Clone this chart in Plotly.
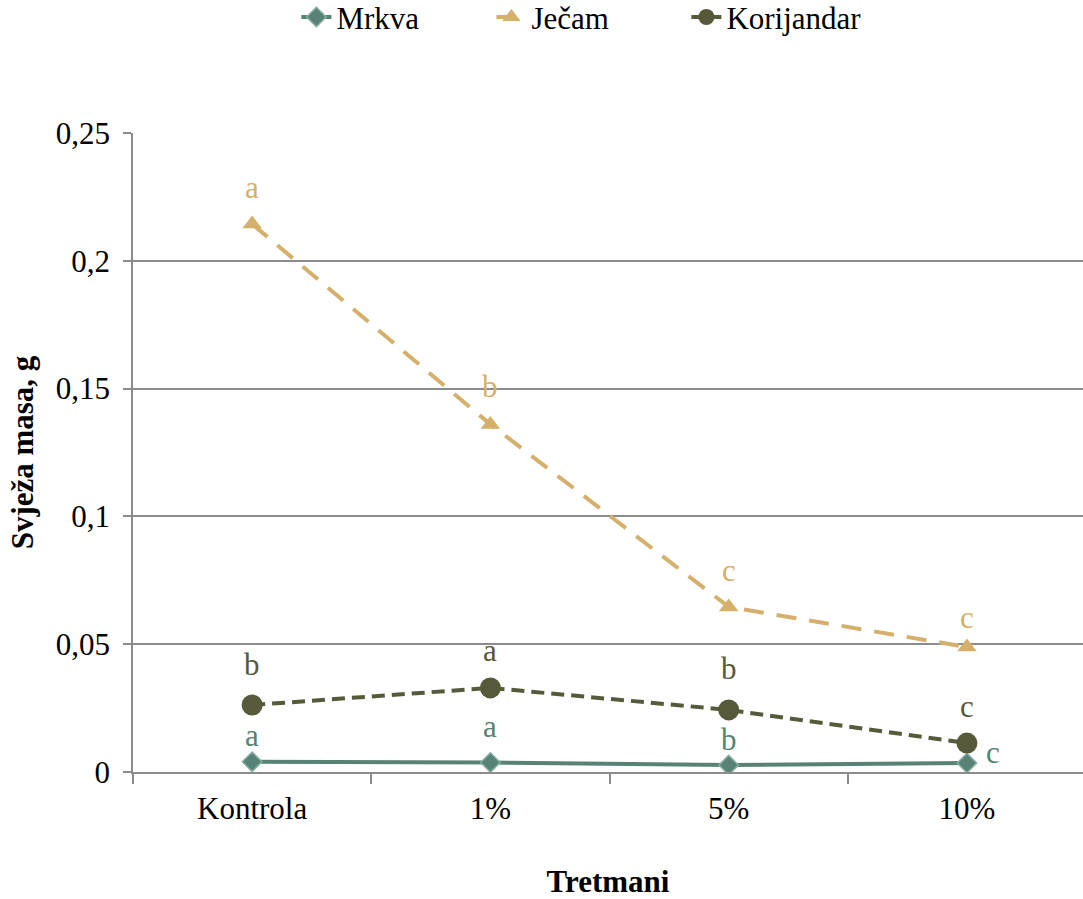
import plotly.graph_objects as go

categories = ["Kontrola", "1%", "5%", "10%"]
mrkva = [0.0040, 0.0037, 0.0027, 0.0035]
jecam = [0.2144, 0.1360, 0.0646, 0.0489]
korijandar = [0.0262, 0.0329, 0.0243, 0.0113]
mrkva_labels = ["a", "a", "b", "c"]
jecam_labels = ["a", "b", "c", "c"]
korijandar_labels = ["b", "a", "b", "c"]
y_tickvals = [0, 0.05, 0.1, 0.15, 0.2, 0.25]
y_ticktext = ["0", "0,05", "0,1", "0,15", "0,2", "0,25"]

# label placement (pixel shifts from each point), as in the original figure
mrkva_label_shift = [(0, 26), (0, 36), (0, 26), (26, 11)]
jecam_label_shift = [(0, 36), (0, 38), (0, 36), (0, 30)]
korijandar_label_shift = [(0, 41), (0, 37), (0, 41), (0, 37)]

FONT = "Liberation Serif"
FS = 31
C_M = "#578275"
C_J = "#D4B06A"
C_K = "#575A3A"

fig = go.Figure()
fig.add_trace(go.Scatter(
    x=categories, y=mrkva, name="Mrkva", mode="lines+markers",
    line=dict(color=C_M, width=4),
    marker=dict(symbol="diamond", size=15, color=C_M, line=dict(color="#86AEA2", width=1.5)),
))
fig.add_trace(go.Scatter(
    x=categories, y=jecam, name="Ječam", mode="lines+markers",
    line=dict(color=C_J, width=4, dash="20px,13px"),
    marker=dict(symbol="triangle-up", size=17, color=C_J),
))
fig.add_trace(go.Scatter(
    x=categories, y=korijandar, name="Korijandar", mode="lines+markers",
    line=dict(color=C_K, width=4, dash="13px,7px"),
    marker=dict(symbol="circle", size=21, color=C_K),
))

series = [
    (mrkva, mrkva_labels, mrkva_label_shift, C_M),
    (jecam, jecam_labels, jecam_label_shift, C_J),
    (korijandar, korijandar_labels, korijandar_label_shift, C_K),
]
for vals, labs, shifts, col in series:
    for cat, v, lab, (dx, dy) in zip(categories, vals, labs, shifts):
        fig.add_annotation(
            x=cat, y=v, text=lab, showarrow=False,
            xanchor="center", yanchor="middle", xshift=dx, yshift=dy,
            font=dict(color=col, size=FS, family=FONT),
        )

fig.update_layout(
    width=1083, height=899,
    margin=dict(l=133, r=0, t=133, b=127, autoexpand=False),
    paper_bgcolor="white", plot_bgcolor="white",
    font=dict(family=FONT, size=FS, color="black"),
    showlegend=True,
    legend=dict(orientation="h", x=0.172, xanchor="left", y=1.181, yanchor="middle",
                entrywidth=150,
                font=dict(size=FS, family=FONT, color="black"),
                traceorder="normal", bgcolor="rgba(0,0,0,0)"),
    xaxis=dict(
        type="category", range=[-0.5, 3.487],
        showline=True, linecolor="#8C8C8C", linewidth=1.5,
        ticks="outside", tickson="boundaries", ticklen=10, tickcolor="#8C8C8C", tickwidth=1.5,
        showgrid=False, zeroline=False, automargin=False, ticklabelstandoff=8,
        tickfont=dict(size=FS, family=FONT, color="black"),
        title=dict(text="<b>Tretmani</b>", font=dict(size=FS, family=FONT, color="black"), standoff=47),
    ),
    yaxis=dict(
        range=[0, 0.25], tickvals=y_tickvals, ticktext=y_ticktext,
        showline=True, linecolor="#8C8C8C", linewidth=1.5,
        ticks="outside", ticklen=8, tickcolor="#8C8C8C", tickwidth=1.5,
        showgrid=True, gridcolor="#8C8C8C", gridwidth=1.5, zeroline=False, automargin=False,
        ticklabelstandoff=7,
        tickfont=dict(size=FS, family=FONT, color="black"),
        title=dict(text="<b>Svježa masa, g</b>", font=dict(size=FS, family=FONT, color="black"), standoff=13),
    ),
)

fig.write_html("out.html", config={"displayModeBar": False},
               post_script="document.body.style.margin='0';")
